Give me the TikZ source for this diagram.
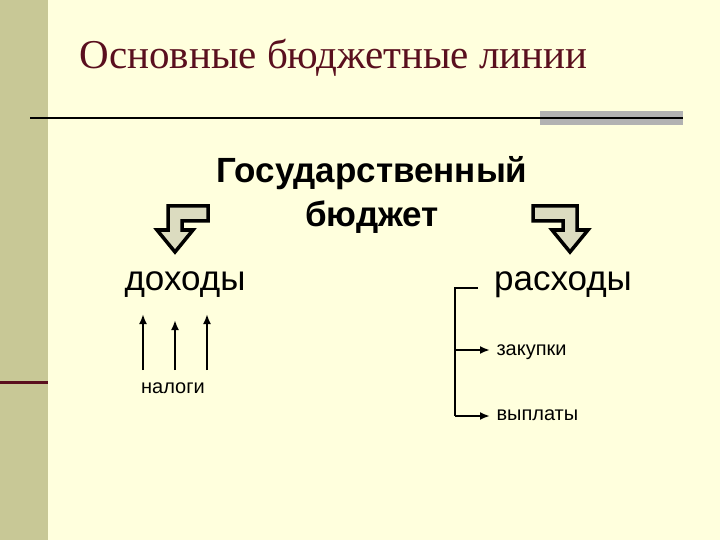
\documentclass[tikz,border=0pt]{standalone}
\usepackage{fontspec}
\usetikzlibrary{arrows.meta}
\setmainfont{Liberation Serif}
\newfontfamily\ssf{Liberation Sans}
\definecolor{bg}{HTML}{FFFFDD}
\definecolor{bar}{HTML}{C8C896}
\definecolor{ttl}{HTML}{5A0F1E}
\definecolor{afill}{HTML}{DCDCC0}
\begin{document}
\begin{tikzpicture}[x=1pt,y=-1pt,
  big/.style={font=\ssf\fontsize{35}{40}\selectfont},
  sm/.style={font=\ssf\fontsize{20}{24}\selectfont},
  bent/.style={draw=black,line width=3.5pt,fill=afill,line join=miter},
  ar/.style={-{Latex[length=10pt,width=8pt]},line width=2.5pt}]
\useasboundingbox (0,0) rectangle (720,540);
\fill[bg] (0,0) rectangle (720,540);
\fill[bar] (0,0) rectangle (48,540);
\draw[ttl,line width=3pt] (0,382) -- (48,382);
\fill[gray!60] (540,111) rectangle (683,125);
\draw[black,line width=2pt] (30,118) -- (683,118);
\node[ttl,anchor=west,font=\fontsize{41}{48}\selectfont] (t) at (76,58) {Основные бюджетные линии};
\node[align=center,font=\ssf\bfseries\fontsize{35}{44}\selectfont] (g) at (372,195) {Государственный\\бюджет};
\draw[bent] (208,206) -- (168,206) -- (168,230) -- (157,230) -- (175,252) -- (193,230) -- (182,230) -- (182,221) -- (208,221) -- cycle;
\draw[bent] (533,206) -- (577,206) -- (577,230) -- (588,230) -- (570,252) -- (552,230) -- (563,230) -- (563,221) -- (533,221) -- cycle;
\node[big] (d) at (185,285) {доходы};
\node[big] (r) at (563,285) {расходы};
\node[sm] (n) at (173,388) {налоги};
\coordinate (a1) at (143,370); \coordinate (b1) at (143,314);
\coordinate (a2) at (175,370); \coordinate (b2) at (175,320);
\coordinate (a3) at (207,370); \coordinate (b3) at (207,314);
\draw[ar] (a1) -- (b1); \draw[ar] (a2) -- (b2); \draw[ar] (a3) -- (b3);
\node[sm,anchor=west] (z) at (493,352) {закупки};
\node[sm,anchor=west] (v) at (493,415) {выплаты};
\coordinate (c0) at (478,288); \coordinate (c1) at (455,288);
\coordinate (c2) at (455,350); \coordinate (c3) at (455,416);
\coordinate (e2) at (490,350); \coordinate (e3) at (490,416);
\draw[line width=2.5pt] (c0) -- (c1) -- (c3);
\draw[ar] (c2) -- (e2);
\draw[ar] (c3) -- (e3);
\end{tikzpicture}
\end{document}
